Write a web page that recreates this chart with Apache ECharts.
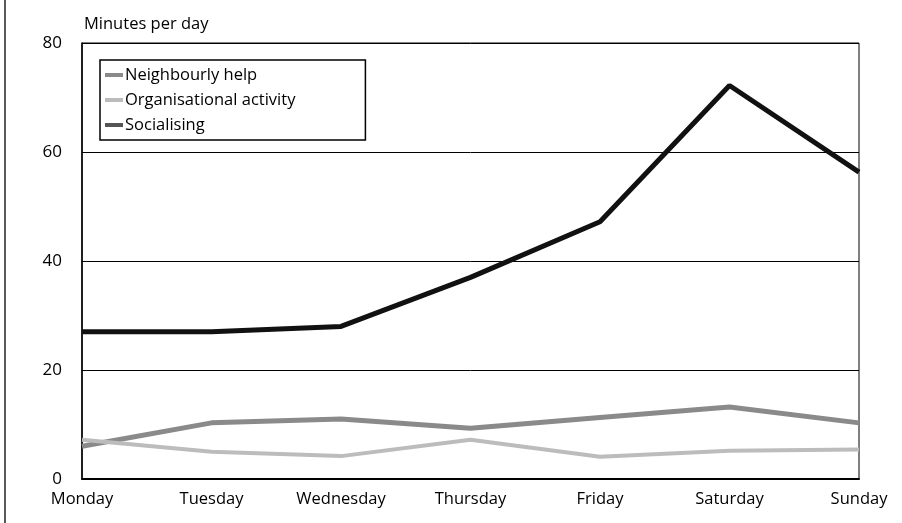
<!DOCTYPE html>
<html>
<head>
<meta charset="utf-8">
<script src="https://cdn.jsdelivr.net/npm/echarts@6/dist/echarts.min.js"></script>
<style>
  html, body { margin: 0; padding: 0; background: #fff; }
  #chart { width: 902px; height: 523px; }
</style>
</head>
<body>
<div id="chart"></div>
<script>
// days on the x axis
var days = ['Monday', 'Tuesday', 'Wednesday', 'Thursday', 'Friday', 'Saturday', 'Sunday'];
// minutes per day
var neighbourlyHelp = [6, 10.3, 11, 9.3, 11.3, 13.2, 10.3];
var organisationalActivity = [7.2, 5, 4.2, 7.2, 4.1, 5.2, 5.4];
var socialising = [27, 27, 28, 37, 47.2, 72.2, 56.3];

var fontFamily = '"Open Sans", sans-serif';

function drawChart() {
    var myChart = echarts.init(document.getElementById('chart'));
    var option = {
        animation: false,
        textStyle: { fontFamily: fontFamily },
        grid: {
            left: 82,
            right: 43,
            top: 43,
            bottom: 44,
            show: true,
            borderColor: '#000',
            borderWidth: 1
        },
        legend: {
            orient: 'vertical',
            left: 100,
            top: 60,
            padding: [6, 70, 6, 5],
            borderColor: '#000',
            borderWidth: 1.5,
            itemGap: 7,
            itemWidth: 18,
            itemHeight: 4,
            icon: 'rect',
            textStyle: { fontSize: 16.5, color: '#000', padding: [0, 0, 0, -3], lineHeight: 18 },
            data: ['Neighbourly help', 'Organisational activity', 'Socialising']
        },
        xAxis: {
            type: 'category',
            boundaryGap: false,
            data: days,
            axisLine: { lineStyle: { color: '#000', width: 2 } },
            axisTick: { show: false },
            axisLabel: { fontSize: 16.5, color: '#000', margin: 12 }
        },
        yAxis: {
            type: 'value',
            min: 0,
            max: 80,
            interval: 20,
            name: 'Minutes per day',
            nameLocation: 'end',
            nameGap: 10,
            nameTextStyle: { fontSize: 16.5, color: '#000', align: 'left', verticalAlign: 'bottom', padding: [0, 0, 0, 2] },
            axisLine: { show: true, lineStyle: { color: '#000', width: 1.5 } },
            axisTick: { show: false },
            axisLabel: { fontSize: 17, color: '#000', margin: 20 },
            splitLine: { lineStyle: { color: '#000', width: 1 } }
        },
        graphic: [
            {
                type: 'line',
                shape: { x1: 5, y1: 0, x2: 5, y2: 523 },
                style: { stroke: '#222', lineWidth: 1.5 }
            }
        ],
        series: [
            {
                name: 'Neighbourly help',
                type: 'line',
                data: neighbourlyHelp,
                symbol: 'none',
                color: '#8a8a8a',
                lineStyle: { width: 5, color: '#8a8a8a' }
            },
            {
                name: 'Organisational activity',
                type: 'line',
                data: organisationalActivity,
                symbol: 'none',
                color: '#bcbcbc',
                lineStyle: { width: 4, color: '#bcbcbc' }
            },
            {
                name: 'Socialising',
                type: 'line',
                data: socialising,
                symbol: 'none',
                color: '#555',
                lineStyle: { width: 5, color: '#111' }
            }
        ]
    };
    myChart.setOption(option);
}

drawChart();
</script>
</body>
</html>
